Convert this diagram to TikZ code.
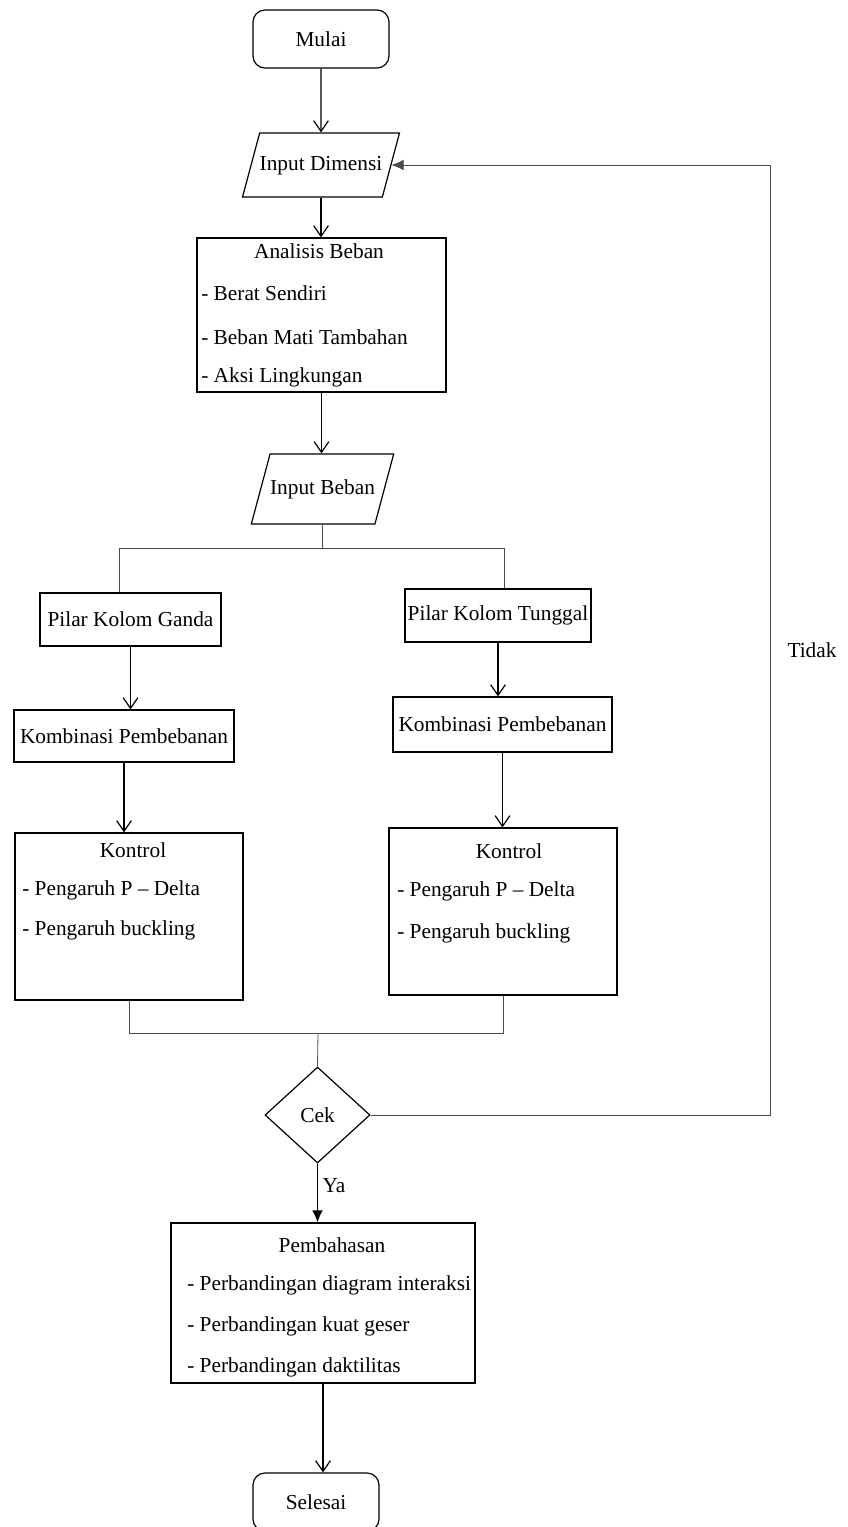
\documentclass[tikz,border=0pt]{standalone}
\usepackage{fontspec}
\setmainfont{Liberation Serif}
\usetikzlibrary{shapes.geometric,arrows.meta,positioning}

\begin{document}
\begin{tikzpicture}[x=0.75pt,y=-0.75pt,
  font=\fontsize{16}{19}\selectfont,
  term/.style={
   draw,
   rounded corners=9pt,
   line width=0.9pt,
   minimum width=102pt,
   minimum height=43.5pt
  },
  io/.style={
   draw,
   trapezium,
   trapezium left angle=75,
   trapezium right angle=105,
   text height=11pt,
   text depth=3.5pt,
   inner xsep=0pt,
   line width=0.9pt
  },
  proc/.style={
   draw,
   line width=0.9pt,
   inner sep=0pt
  },
  item/.style={
   anchor=west,
   inner sep=0pt
  },
  arr/.style={-{Straight Barb[length=8pt,width=11pt]},line width=0.9pt},
  arrf/.style={-{Latex[length=9pt,width=8pt]},line width=0.9pt},
  bus/.style={draw=black!70,line width=0.6pt}]
  \useasboundingbox (0,0) rectangle (847,1527);

  % top part
  \node[term] (mulai) at (321,39) {Mulai};
  \node[io,inner ysep=16.75pt] (dimensi) at (321,165) {Input Dimensi};
  \node[proc,minimum width=186.75pt,minimum height=115.5pt] (analisis) at (321.5,315) {};
  \node (analisis-t) at (319,251) {Analisis Beban};
  \node[item] (analisis-1) at (201,293) {- Berat Sendiri};
  \node[item] (analisis-2) at (201,337) {- Beban Mati Tambahan};
  \node[item] (analisis-3) at (201,377) {- Aksi Lingkungan};
  \node[io,inner ysep=19pt] (beban) at (322.5,489) {Input Beban};

  % two columns
  \node[proc,minimum width=135.75pt,minimum height=39.75pt] (ganda) at (130.5,619.5) {Pilar Kolom Ganda};
  \node[proc,minimum width=139.5pt,minimum height=39.75pt] (tunggal) at (498,615.5) {Pilar Kolom Tunggal};
  \node[proc,minimum width=165pt,minimum height=39pt] (komb1) at (124,736) {Kombinasi Pembebanan};
  \node[proc,minimum width=164.25pt,minimum height=41.25pt] (komb2) at (502.5,724.5) {Kombinasi Pembebanan};
  \node[proc,minimum width=171pt,minimum height=125.25pt] (kontrol1) at (129,916.5) {};
  \node (kontrol1-t) at (133,850) {Kontrol};
  \node[item] (kontrol1-1) at (22,890) {- Pengaruh P -- Delta};
  \node[item] (kontrol1-2) at (22,930) {- Pengaruh buckling};
  \node[proc,minimum width=171pt,minimum height=125.25pt] (kontrol2) at (503,911.5) {};
  \node (kontrol2-t) at (509,851) {Kontrol};
  \node[item] (kontrol2-1) at (397,891) {- Pengaruh P -- Delta};
  \node[item] (kontrol2-2) at (397,933) {- Pengaruh buckling};

  % bottom part
  \node[draw,diamond,line width=0.9pt,inner sep=0pt,minimum width=78.75pt,minimum height=72pt] (cek) at (317.5,1115) {Cek};
  \node[proc,minimum width=228pt,minimum height=120pt] (pembahasan) at (323,1303) {};
  \node (pembahasan-t) at (332,1245) {Pembahasan};
  \node[item] (pembahasan-1) at (187,1285) {- Perbandingan diagram interaksi};
  \node[item] (pembahasan-2) at (187,1326) {- Perbandingan kuat geser};
  \node[item] (pembahasan-3) at (187,1367) {- Perbandingan daktilitas};
  \node[term,minimum width=94.5pt] (selesai) at (316,1502) {Selesai};
  \node (tidak) at (812,650) {Tidak};

  \coordinate (split) at (318,548);
  \coordinate (merge) at (318,1033);
  \coordinate (back) at (770,0);

  \draw[arr] (mulai) -- (dimensi);
  \draw[arr] (dimensi.south) -- (dimensi.south |- analisis.north);
  \draw[arr] (analisis.south) -- (analisis.south |- beban.north);
  \draw[bus] (beban.south) -- (beban.south |- split);
  \draw[bus] ([xshift=-8pt]ganda.north) |- ([xshift=5pt]tunggal.north |- split) -- ([xshift=5pt]tunggal.north);
  \draw[arr] (ganda.south) -- (ganda.south |- komb1.north);
  \draw[arr] (komb1.south) -- (komb1.south |- kontrol1.north);
  \draw[arr] (tunggal.south) -- (tunggal.south |- komb2.north);
  \draw[arr] (komb2.south) -- (komb2.south |- kontrol2.north);
  \draw[bus] (kontrol1.south) |- (kontrol2.south |- merge) -- (kontrol2.south);
  \draw[bus] (merge) -- (cek.north);
  \draw[bus,-{Latex[length=9pt,width=8pt]}] (cek.east) -| (back |- dimensi.east) -- (dimensi.east);
  \draw[arrf] (cek.south) -- node[right,pos=0.37] (ya) {Ya} (cek.south |- pembahasan.north);
  \draw[arr] (pembahasan.south) -- (pembahasan.south |- selesai.north);
\end{tikzpicture}
\end{document}
